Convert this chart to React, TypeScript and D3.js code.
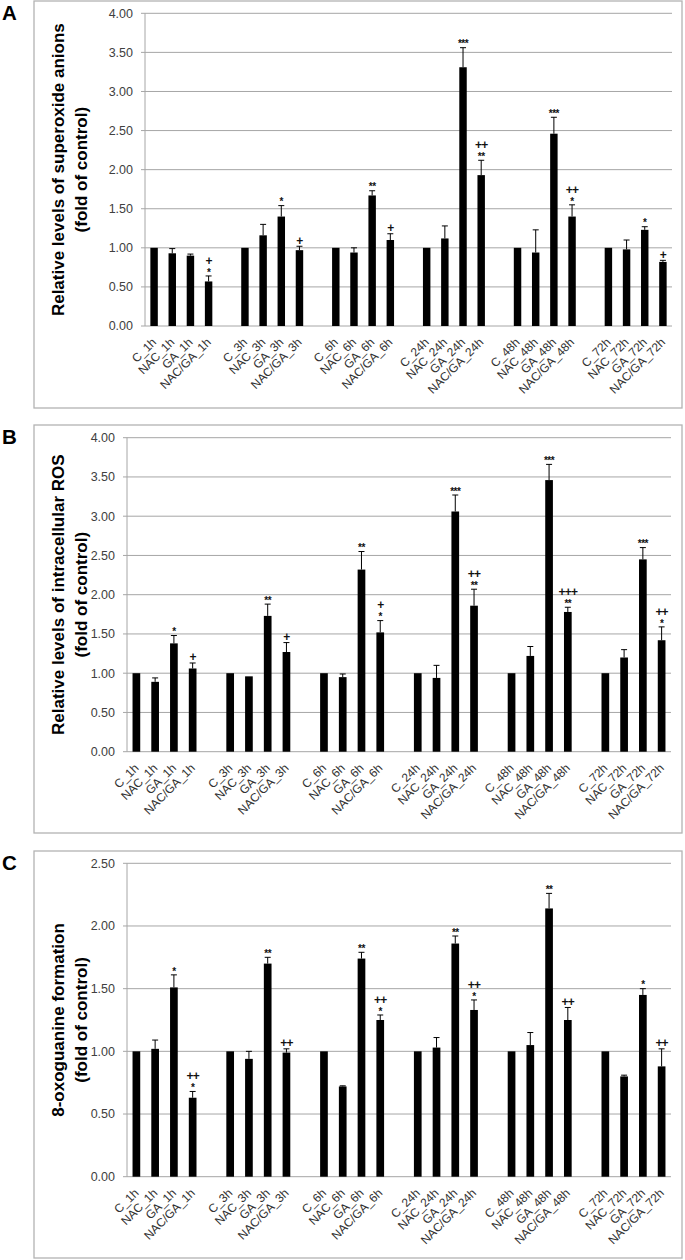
import React from "react";
import * as d3 from "d3";

const times = ["1h", "3h", "6h", "24h", "48h", "72h"];
const treatments = ["C", "NAC", "GA", "NAC/GA"];
const categories = times.flatMap((t) => treatments.map((g) => `${g}_${t}`));

// Panel A: superoxide anions
const superoxideMeans = [1.0, 0.93, 0.9, 0.57, 1.0, 1.16, 1.4, 0.97, 1.0, 0.94, 1.67, 1.1, 1.0, 1.12, 3.31, 1.93, 1.0, 0.94, 2.46, 1.4, 1.0, 0.98, 1.23, 0.82];
const superoxideErrors = [0, 0.06, 0.02, 0.07, 0, 0.14, 0.14, 0.05, 0, 0.06, 0.06, 0.08, 0, 0.16, 0.25, 0.19, 0, 0.29, 0.21, 0.15, 0, 0.12, 0.04, 0.02];
const superoxideMarks = ["", "", "", "+|*", "", "", "*", "+", "", "", "**", "+", "", "", "***", "++|**", "", "", "***", "++|*", "", "", "*", "+"];

// Panel B: intracellular ROS
const rosMeans = [1.0, 0.89, 1.38, 1.06, 1.0, 0.96, 1.73, 1.27, 1.0, 0.95, 2.32, 1.52, 1.0, 0.94, 3.06, 1.86, 1.0, 1.22, 3.46, 1.78, 1.0, 1.2, 2.45, 1.42];
const rosErrors = [0, 0.05, 0.1, 0.07, 0, 0, 0.15, 0.12, 0, 0.04, 0.23, 0.15, 0, 0.16, 0.21, 0.21, 0, 0.12, 0.2, 0.06, 0, 0.1, 0.15, 0.17];
const rosMarks = ["", "", "*", "+", "", "", "**", "+", "", "", "**", "+|*", "", "", "***", "++|**", "", "", "***", "+++|**", "", "", "***", "++|*"];

// Panel C: 8-oxoguanine formation
const oxoMeans = [1.0, 1.02, 1.51, 0.63, 1.0, 0.94, 1.7, 0.99, 1.0, 0.72, 1.74, 1.25, 1.0, 1.03, 1.86, 1.33, 1.0, 1.05, 2.14, 1.25, 1.0, 0.8, 1.45, 0.88];
const oxoErrors = [0, 0.07, 0.1, 0.05, 0, 0.06, 0.05, 0.03, 0, 0.005, 0.05, 0.04, 0, 0.08, 0.06, 0.08, 0, 0.1, 0.12, 0.1, 0, 0.01, 0.05, 0.14];
const oxoMarks = ["", "", "*", "++|*", "", "", "**", "++", "", "", "**", "++|*", "", "", "**", "++|*", "", "", "**", "++", "", "", "*", "++"];

const FONT = "'Liberation Sans', Arial, Helvetica, sans-serif";

// slot domain with one empty slot between time groups
const slotDomain: string[] = [];
times.forEach((t, i) => {
  treatments.forEach((g) => slotDomain.push(`${g}_${t}`));
  if (i < times.length - 1) slotDomain.push(`gap${i}`);
});

type PanelProps = {
  letter: string;
  box: [number, number, number, number];
  left: number;
  right: number;
  top: number;
  bottom: number;
  yMax: number;
  titleLines: string[];
  means: number[];
  errors: number[];
  marks: string[];
};

function Panel(p: PanelProps) {
  const x = d3.scaleBand<string>().domain(slotDomain).range([p.left, p.right]).paddingInner(0).paddingOuter(0);
  const y = d3.scaleLinear().domain([0, p.yMax]).range([p.bottom, p.top]);
  const ticks = d3.range(0, p.yMax + 0.001, 0.5);
  const bw = x.bandwidth() * 0.41;
  const cy = (p.top + p.bottom) / 2;
  const [bx, by, bwid, bh] = p.box;
  return (
    <g>
      <rect x={bx} y={by} width={bwid} height={bh} fill="#fff" stroke="#b3b3b3" strokeWidth={1.3} />
      <text x={2} y={by + 19} fontFamily={FONT} fontWeight="bold" fontSize={20.5} fill="#000">
        {p.letter}
      </text>
      {ticks.map((t) => (
        <g key={t}>
          {t > 0 && <line x1={p.left} x2={p.right} y1={y(t)} y2={y(t)} stroke="#a6a6a6" strokeWidth={1} />}
          <line x1={p.left - 4} x2={p.left} y1={y(t)} y2={y(t)} stroke="#a6a6a6" strokeWidth={1} />
          <text x={p.left - 12} y={y(t)} dy="0.35em" textAnchor="end" fontFamily={FONT} fontSize={12.5} fill="#404040">
            {d3.format(".2f")(t)}
          </text>
        </g>
      ))}
      <line x1={p.left} x2={p.right} y1={p.bottom} y2={p.bottom} stroke="#a6a6a6" strokeWidth={1} />
      <line x1={p.left} x2={p.left} y1={p.top} y2={p.bottom} stroke="#a6a6a6" strokeWidth={1} />
      {p.titleLines.map((ln, i) => (
        <text
          key={i}
          transform={`translate(${58 + i * 23},${cy}) rotate(-90)`}
          dy="0.35em"
          textAnchor="middle"
          fontFamily={FONT}
          fontWeight="bold"
          fontSize={17}
          fill="#000"
        >
          {ln}
        </text>
      ))}
      {categories.map((c, i) => {
        const cx = (x(c) as number) + x.bandwidth() / 2;
        const m = p.means[i];
        const e = p.errors[i];
        const top = y(m + e);
        const lines = p.marks[i] ? p.marks[i].split("|") : [];
        const n = lines.length;
        return (
          <g key={c}>
            <rect x={cx - bw / 2} y={y(m)} width={bw} height={p.bottom - y(m)} fill="#000" />
            {e > 0 && (
              <g stroke="#000" strokeWidth={1}>
                <line x1={cx} x2={cx} y1={y(m)} y2={top} />
                <line x1={cx - 3} x2={cx + 3} y1={top} y2={top} />
              </g>
            )}
            {lines.map((ln, k) => {
              const center = top - 6 - (n - 1 - k) * 9.5;
              const isStar = ln.includes("*");
              return (
                <text
                  key={k}
                  x={cx}
                  y={isStar ? center + 5.7 : center + 4.3}
                  textAnchor="middle"
                  fontFamily={FONT}
                  fontWeight="bold"
                  fill="#111"
                  fontSize={isStar ? 10 : 12}
                  letterSpacing={isStar ? -0.5 : -0.8}
                >
                  {ln}
                </text>
              );
            })}
            <text
              transform={`translate(${cx + 3},${p.bottom + 17}) rotate(-45)`}
              textAnchor="end"
              fontFamily={FONT}
              fontSize={12}
              fill="#333"
            >
              {c}
            </text>
          </g>
        );
      })}
    </g>
  );
}

export default function App() {
  return (
    <svg
      width={685}
      height={1260}
      style={{ position: "absolute", left: 0, top: 0, background: "#fff" }}
    >
      <Panel
        letter="A"
        box={[34, 1, 648, 407]}
        left={145}
        right={672}
        top={13.3}
        bottom={326}
        yMax={4}
        titleLines={["Relative levels of superoxide anions", "(fold of control)"]}
        means={superoxideMeans}
        errors={superoxideErrors}
        marks={superoxideMarks}
      />
      <Panel
        letter="B"
        box={[34, 425, 648, 408]}
        left={127}
        right={671}
        top={437.7}
        bottom={751.7}
        yMax={4}
        titleLines={["Relative levels of intracellular ROS", "(fold of control)"]}
        means={rosMeans}
        errors={rosErrors}
        marks={rosMarks}
      />
      <Panel
        letter="C"
        box={[34, 851, 648, 407]}
        left={127}
        right={671}
        top={863.3}
        bottom={1176.7}
        yMax={2.5}
        titleLines={["8-oxoguanine formation", "(fold of control)"]}
        means={oxoMeans}
        errors={oxoErrors}
        marks={oxoMarks}
      />
    </svg>
  );
}
